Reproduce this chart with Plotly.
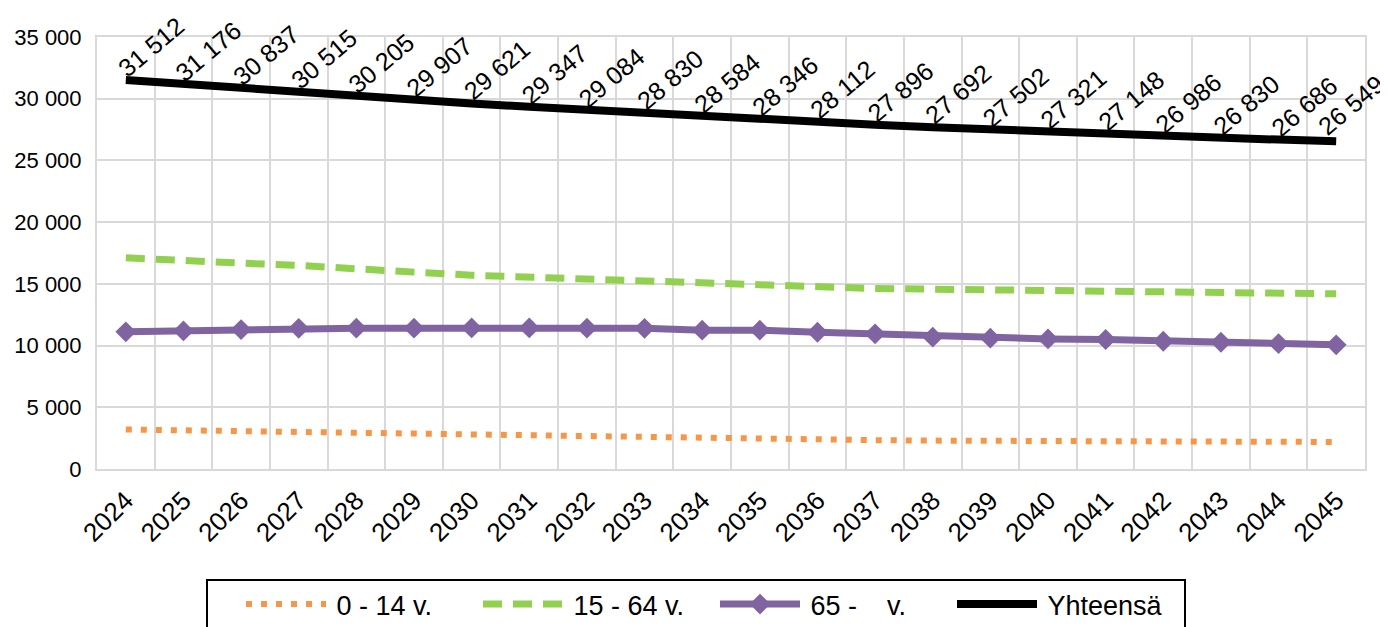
import plotly.graph_objects as go

years = list(range(2024, 2046))
total = [31512, 31176, 30837, 30515, 30205, 29907, 29621, 29347, 29084, 28830, 28584,
         28346, 28112, 27896, 27692, 27502, 27321, 27148, 26986, 26830, 26686, 26549]
age_65 = [11110, 11190, 11300, 11400, 11410, 11410, 11430, 11430, 11410, 11400, 11250,
          11250, 11080, 10950, 10680, 10600, 10540, 10490, 10350, 10270, 10160, 10060]
age_15_64 = [17110, 16840, 16680, 16490, 16160, 15950, 15700, 15540, 15320, 15160, 14970,
             14810, 14680, 14620, 14570, 14510, 14460, 14400, 14320, 14270, 14220, 14190]
age_0_14 = [3200, 3130, 3050, 2970, 2890, 2810, 2740, 2670, 2600, 2540, 2480,
            2430, 2380, 2340, 2300, 2270, 2250, 2230, 2220, 2210, 2200, 2190]
names = ["0 - 14 v.", "15 - 64 v.", "65 -\u00a0\u00a0\u00a0\u00a0v.", "Yhteensä"]
y_ticks = [0, 5000, 10000, 15000, 20000, 25000, 30000, 35000]

FONT = "Liberation Sans, Arial, sans-serif"
GRID = "#D9D9D9"
OFF = 8  # default page body margin
W, H = 1388 - OFF, 627 - OFF
ML, MR, MT, MB = 97 - OFF, 23, 37 - OFF, 158
PW, PH = W - ML - MR, H - MT - MB


def px_x(px):
    return (px - OFF - ML) / PW


def px_y(py):
    return (H - MB - (py - OFF)) / PH


fig = go.Figure()
fig.add_trace(go.Scatter(x=years, y=age_0_14, name="\u2009" + names[0], mode="lines",
                         line=dict(color="#F79646", width=6, dash="6px,9px")))
fig.add_trace(go.Scatter(x=years, y=age_15_64, name="\u2009" + names[1], mode="lines",
                         line=dict(color="#92D050", width=7, dash="19px,11px")))
fig.add_trace(go.Scatter(x=years, y=age_65, name="\u2009" + names[2], mode="lines+markers",
                         line=dict(color="#8064A2", width=7),
                         marker=dict(symbol="diamond", size=16, color="#8064A2")))
fig.add_trace(go.Scatter(x=years, y=total, name="\u2009" + names[3], mode="lines",
                         line=dict(color="black", width=8)))

for i, (yr, v) in enumerate(zip(years, total)):
    last = i == len(years) - 1
    fig.add_annotation(x=yr, y=v, text=f"{v:,}".replace(",", " "), showarrow=False,
                       textangle=-40, xanchor="center", yanchor="middle",
                       xshift=15 if last else 25, yshift=36 if last else 33,
                       font=dict(family=FONT, size=25, color="black"))

# legend frame (bottom edge runs off the page as in the reference)
fig.add_shape(type="rect", xref="paper", yref="paper",
              x0=px_x(207), x1=px_x(1185), y0=px_y(640), y1=px_y(580),
              line=dict(color="black", width=2), fillcolor="rgba(0,0,0,0)", layer="above")

fig.update_layout(
    width=W, height=H,
    margin=dict(l=ML, r=MR, t=MT, b=MB, autoexpand=False),
    paper_bgcolor="white", plot_bgcolor="white",
    separators=", ",
    font=dict(family=FONT, color="black"),
    showlegend=True,
    legend=dict(orientation="h", x=px_x(241), xanchor="left", y=px_y(580), yanchor="top",
                borderwidth=0, bgcolor="rgba(0,0,0,0)",
                font=dict(family=FONT, size=27, color="black"),
                itemwidth=80, entrywidth=142, traceorder="normal"),
)
fig.update_xaxes(range=[2023.5, 2045.5], tickmode="array", tickvals=years,
                 ticktext=[str(y) for y in years], tickangle=-45,
                 tickfont=dict(family=FONT, size=26, color="black"),
                 showgrid=False, zeroline=False,
                 showline=True, linecolor=GRID, linewidth=2, mirror=True,
                 ticks="", ticklabelstandoff=4,
                 minor=dict(tickvals=[y - 0.5 for y in years] + [years[-1] + 0.5],
                            showgrid=True, gridcolor=GRID, gridwidth=2))
fig.update_yaxes(range=[0, 35000], tickmode="array", tickvals=y_ticks,
                 tickformat=",d", tickfont=dict(family=FONT, size=22, color="black"),
                 showgrid=True, gridcolor=GRID, gridwidth=2, zeroline=False,
                 showline=True, linecolor=GRID, linewidth=2, mirror=True,
                 ticks="", ticklabelstandoff=9)

fig.write_html("out.html")
